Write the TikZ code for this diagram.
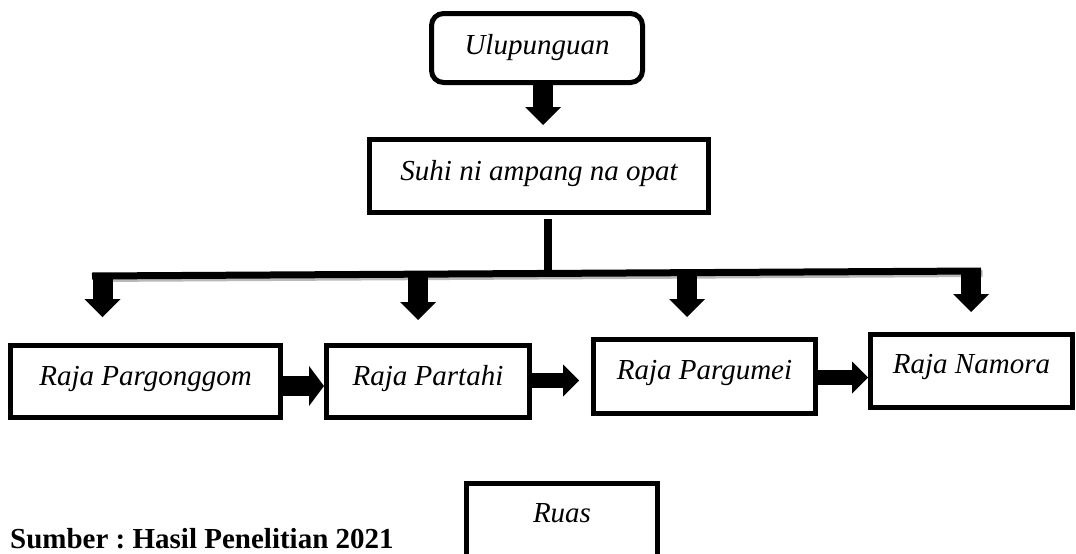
\documentclass[tikz,border=0pt]{standalone}
\usepackage{fontspec}
\setmainfont{Liberation Serif}
\usetikzlibrary{arrows.meta}
\frenchspacing
\begin{document}
\begin{tikzpicture}[x=1pt,y=-1pt,
  box/.style={draw, line width=5pt, inner sep=2pt, font=\fontsize{29}{34}\selectfont\itshape, text height=20pt},
  barline/.style={line width=7pt},
  downarrow/.style={line width=20pt, -{Triangle[width=36pt,length=18pt,line width=0pt]}},
  bigright/.style={line width=20pt, -{Triangle[width=40pt,length=15pt,line width=0pt]}},
  smallright/.style={line width=15pt, -{Triangle[width=32pt,length=16pt,line width=0pt]}},
]
\clip (0,0) rectangle (1076,554);
\fill[white] (0,0) rectangle (1076,554);

% boxes
\node[box, rounded corners=12pt, minimum width=211pt, minimum height=69pt, text depth=8pt] (U) at (537,48) {Ulupunguan};
\node[box, minimum width=339pt, minimum height=73pt, text depth=12pt] (S) at (539,176) {Suhi ni ampang na opat};
\node[box, minimum width=270pt, minimum height=72pt, text depth=13pt] (B1) at (145.5,381.5) {Raja Pargonggom};
\node[box, minimum width=203pt, minimum height=72pt, text depth=13pt] (B2) at (428,381.5) {Raja Partahi};
\node[box, minimum width=222pt, minimum height=74pt, text depth=15pt] (B3) at (704.5,376.5) {Raja Pargumei};
\node[box, minimum width=202pt, minimum height=73pt, text depth=16pt] (B4) at (971.5,371) {Raja Namora};
\node[box, minimum width=191pt, minimum height=100pt, text depth=43pt] (R) at (562,533.5) {Ruas};

\node[font=\fontsize{29}{34}\selectfont\bfseries, anchor=base west, inner sep=0pt] (src) at (10,548) {Sumber : Hasil Penelitian 2021};

% bar
\coordinate (barL) at (92,276);
\coordinate (barR) at (981,271);
\coordinate (j) at (548,272);
\coordinate (d1) at (102.5,273);
\coordinate (d2) at (418,272);
\coordinate (d3) at (687,271);
\coordinate (d4) at (971,267.5);

\draw[barline, gray!55] ([shift={(1.5,2.5)}]barL) -- ([shift={(1.5,2.5)}]barR);
\draw[barline] (barL) -- (barR);

% arrows
\draw[downarrow, shorten >=12pt] ([xshift=6pt]U.south) -- ([xshift=4pt]S.north);
\draw[line width=8pt, shorten <=4pt] ([xshift=9pt]S.south) -- (j);

\draw[downarrow, shorten >=26pt] (d1) -- (d1 |- B1.north);
\draw[downarrow, shorten >=23pt] (d2) -- (d2 |- B2.north);
\draw[downarrow, shorten >=20pt] (d3) -- (d3 |- B3.north);
\draw[downarrow, shorten >=20pt] (d4) -- (d4 |- B4.north);

\draw[bigright] ([yshift=-4.5pt]B1.east) -- ([yshift=-4.5pt]B2.west);
\draw[smallright, shorten >=12pt] ([yshift=1pt]B2.east) -- ([yshift=-4pt]B3.west);
\draw[smallright] ([yshift=-1pt]B3.east) -- ([yshift=-6.5pt]B4.west);
\end{tikzpicture}
\end{document}
